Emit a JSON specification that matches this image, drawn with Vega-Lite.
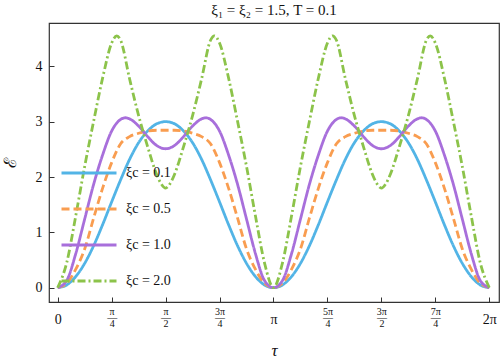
{
  "$schema": "https://vega.github.io/schema/vega-lite/v6.json",
  "width": 450,
  "height": 279,
  "autosize": {"type": "none"},
  "padding": {"left": 49, "top": 23, "right": 1, "bottom": 61},
  "background": "white",
  "config": {
    "font": "Liberation Serif",
    "view": {"stroke": "#333333", "strokeWidth": 1.2}
  },
  "title": {"text": "ξ₁ = ξ₂ = 1.5, T = 0.1", "fontSize": 15, "fontWeight": "normal", "font": "Liberation Serif", "anchor": "middle", "frame": "group", "offset": 5, "color": "#111"},
  "data": {"values": [
    {"c":"0.1","x":0,"y":0},{"c":"0.1","x":0.0417,"y":0.05},{"c":"0.1","x":0.0833,"y":0.2},{"c":"0.1","x":0.125,"y":0.44},{"c":"0.1","x":0.1667,"y":0.76},{"c":"0.1","x":0.2083,"y":1.14},{"c":"0.1","x":0.25,"y":1.55},{"c":"0.1","x":0.2917,"y":1.95},{"c":"0.1","x":0.3333,"y":2.32},{"c":"0.1","x":0.375,"y":2.62},{"c":"0.1","x":0.4167,"y":2.83},{"c":"0.1","x":0.4583,"y":2.96},{"c":"0.1","x":0.5,"y":3.0},
    {"c":"0.1","x":0.5417,"y":2.96},{"c":"0.1","x":0.5833,"y":2.83},{"c":"0.1","x":0.625,"y":2.62},{"c":"0.1","x":0.6667,"y":2.32},{"c":"0.1","x":0.7083,"y":1.95},{"c":"0.1","x":0.75,"y":1.55},{"c":"0.1","x":0.7917,"y":1.14},{"c":"0.1","x":0.8333,"y":0.76},{"c":"0.1","x":0.875,"y":0.44},{"c":"0.1","x":0.9167,"y":0.2},{"c":"0.1","x":0.9583,"y":0.05},{"c":"0.1","x":1,"y":0},
    {"c":"0.1","x":1.0417,"y":0.05},{"c":"0.1","x":1.0833,"y":0.2},{"c":"0.1","x":1.125,"y":0.44},{"c":"0.1","x":1.1667,"y":0.76},{"c":"0.1","x":1.2083,"y":1.14},{"c":"0.1","x":1.25,"y":1.55},{"c":"0.1","x":1.2917,"y":1.95},{"c":"0.1","x":1.3333,"y":2.32},{"c":"0.1","x":1.375,"y":2.62},{"c":"0.1","x":1.4167,"y":2.83},{"c":"0.1","x":1.4583,"y":2.96},{"c":"0.1","x":1.5,"y":3.0},
    {"c":"0.1","x":1.5417,"y":2.96},{"c":"0.1","x":1.5833,"y":2.83},{"c":"0.1","x":1.625,"y":2.62},{"c":"0.1","x":1.6667,"y":2.32},{"c":"0.1","x":1.7083,"y":1.95},{"c":"0.1","x":1.75,"y":1.55},{"c":"0.1","x":1.7917,"y":1.14},{"c":"0.1","x":1.8333,"y":0.76},{"c":"0.1","x":1.875,"y":0.44},{"c":"0.1","x":1.9167,"y":0.2},{"c":"0.1","x":1.9583,"y":0.05},{"c":"0.1","x":2,"y":0},

    {"c":"0.5","x":0,"y":0},{"c":"0.5","x":0.0417,"y":0.08},{"c":"0.5","x":0.0833,"y":0.33},{"c":"0.5","x":0.125,"y":0.7},{"c":"0.5","x":0.1667,"y":1.26},{"c":"0.5","x":0.2083,"y":1.8},{"c":"0.5","x":0.25,"y":2.26},{"c":"0.5","x":0.2917,"y":2.6},{"c":"0.5","x":0.3333,"y":2.73},{"c":"0.5","x":0.375,"y":2.79},{"c":"0.5","x":0.4167,"y":2.83},{"c":"0.5","x":0.4583,"y":2.845},{"c":"0.5","x":0.5,"y":2.845},
    {"c":"0.5","x":0.5417,"y":2.845},{"c":"0.5","x":0.5833,"y":2.83},{"c":"0.5","x":0.625,"y":2.79},{"c":"0.5","x":0.6667,"y":2.73},{"c":"0.5","x":0.7083,"y":2.6},{"c":"0.5","x":0.75,"y":2.26},{"c":"0.5","x":0.7917,"y":1.8},{"c":"0.5","x":0.8333,"y":1.26},{"c":"0.5","x":0.875,"y":0.7},{"c":"0.5","x":0.9167,"y":0.33},{"c":"0.5","x":0.9583,"y":0.08},{"c":"0.5","x":1,"y":0},
    {"c":"0.5","x":1.0417,"y":0.08},{"c":"0.5","x":1.0833,"y":0.33},{"c":"0.5","x":1.125,"y":0.7},{"c":"0.5","x":1.1667,"y":1.26},{"c":"0.5","x":1.2083,"y":1.8},{"c":"0.5","x":1.25,"y":2.26},{"c":"0.5","x":1.2917,"y":2.6},{"c":"0.5","x":1.3333,"y":2.73},{"c":"0.5","x":1.375,"y":2.79},{"c":"0.5","x":1.4167,"y":2.83},{"c":"0.5","x":1.4583,"y":2.845},{"c":"0.5","x":1.5,"y":2.845},
    {"c":"0.5","x":1.5417,"y":2.845},{"c":"0.5","x":1.5833,"y":2.83},{"c":"0.5","x":1.625,"y":2.79},{"c":"0.5","x":1.6667,"y":2.73},{"c":"0.5","x":1.7083,"y":2.6},{"c":"0.5","x":1.75,"y":2.26},{"c":"0.5","x":1.7917,"y":1.8},{"c":"0.5","x":1.8333,"y":1.26},{"c":"0.5","x":1.875,"y":0.7},{"c":"0.5","x":1.9167,"y":0.33},{"c":"0.5","x":1.9583,"y":0.08},{"c":"0.5","x":2,"y":0},

    {"c":"1.0","x":0,"y":0},{"c":"1.0","x":0.0417,"y":0.13},{"c":"1.0","x":0.0833,"y":0.61},{"c":"1.0","x":0.125,"y":1.24},{"c":"1.0","x":0.1667,"y":1.87},{"c":"1.0","x":0.2083,"y":2.4},{"c":"1.0","x":0.25,"y":2.83},{"c":"1.0","x":0.2917,"y":3.04},{"c":"1.0","x":0.3132,"y":3.07},{"c":"1.0","x":0.3333,"y":3.05},{"c":"1.0","x":0.375,"y":2.92},{"c":"1.0","x":0.4167,"y":2.73},{"c":"1.0","x":0.4583,"y":2.57},{"c":"1.0","x":0.5,"y":2.51},
    {"c":"1.0","x":0.5417,"y":2.57},{"c":"1.0","x":0.5833,"y":2.73},{"c":"1.0","x":0.625,"y":2.92},{"c":"1.0","x":0.6667,"y":3.05},{"c":"1.0","x":0.6868,"y":3.07},{"c":"1.0","x":0.7083,"y":3.04},{"c":"1.0","x":0.75,"y":2.83},{"c":"1.0","x":0.7917,"y":2.4},{"c":"1.0","x":0.8333,"y":1.87},{"c":"1.0","x":0.875,"y":1.24},{"c":"1.0","x":0.9167,"y":0.61},{"c":"1.0","x":0.9583,"y":0.13},{"c":"1.0","x":1,"y":0},
    {"c":"1.0","x":1.0417,"y":0.13},{"c":"1.0","x":1.0833,"y":0.61},{"c":"1.0","x":1.125,"y":1.24},{"c":"1.0","x":1.1667,"y":1.87},{"c":"1.0","x":1.2083,"y":2.4},{"c":"1.0","x":1.25,"y":2.83},{"c":"1.0","x":1.2917,"y":3.04},{"c":"1.0","x":1.3132,"y":3.07},{"c":"1.0","x":1.3333,"y":3.05},{"c":"1.0","x":1.375,"y":2.92},{"c":"1.0","x":1.4167,"y":2.73},{"c":"1.0","x":1.4583,"y":2.57},{"c":"1.0","x":1.5,"y":2.51},
    {"c":"1.0","x":1.5417,"y":2.57},{"c":"1.0","x":1.5833,"y":2.73},{"c":"1.0","x":1.625,"y":2.92},{"c":"1.0","x":1.6667,"y":3.05},{"c":"1.0","x":1.6868,"y":3.07},{"c":"1.0","x":1.7083,"y":3.04},{"c":"1.0","x":1.75,"y":2.83},{"c":"1.0","x":1.7917,"y":2.4},{"c":"1.0","x":1.8333,"y":1.87},{"c":"1.0","x":1.875,"y":1.24},{"c":"1.0","x":1.9167,"y":0.61},{"c":"1.0","x":1.9583,"y":0.13},{"c":"1.0","x":2,"y":0},

    {"c":"2.0","x":0,"y":0},{"c":"2.0","x":0.0417,"y":0.45},{"c":"2.0","x":0.0833,"y":1.29},{"c":"2.0","x":0.125,"y":2.19},{"c":"2.0","x":0.1667,"y":3.01},{"c":"2.0","x":0.2083,"y":3.79},{"c":"2.0","x":0.25,"y":4.42},{"c":"2.0","x":0.2735,"y":4.55},{"c":"2.0","x":0.2917,"y":4.47},{"c":"2.0","x":0.3333,"y":3.77},{"c":"2.0","x":0.375,"y":3.11},{"c":"2.0","x":0.4167,"y":2.55},{"c":"2.0","x":0.4583,"y":2.05},{"c":"2.0","x":0.4792,"y":1.88},{"c":"2.0","x":0.5,"y":1.8},
    {"c":"2.0","x":0.5208,"y":1.88},{"c":"2.0","x":0.5417,"y":2.05},{"c":"2.0","x":0.5833,"y":2.55},{"c":"2.0","x":0.625,"y":3.11},{"c":"2.0","x":0.6667,"y":3.77},{"c":"2.0","x":0.7083,"y":4.47},{"c":"2.0","x":0.7265,"y":4.55},{"c":"2.0","x":0.75,"y":4.42},{"c":"2.0","x":0.7917,"y":3.79},{"c":"2.0","x":0.8333,"y":3.01},{"c":"2.0","x":0.875,"y":2.19},{"c":"2.0","x":0.9167,"y":1.29},{"c":"2.0","x":0.9583,"y":0.45},{"c":"2.0","x":1,"y":0},
    {"c":"2.0","x":1.0417,"y":0.45},{"c":"2.0","x":1.0833,"y":1.29},{"c":"2.0","x":1.125,"y":2.19},{"c":"2.0","x":1.1667,"y":3.01},{"c":"2.0","x":1.2083,"y":3.79},{"c":"2.0","x":1.25,"y":4.42},{"c":"2.0","x":1.2735,"y":4.55},{"c":"2.0","x":1.2917,"y":4.47},{"c":"2.0","x":1.3333,"y":3.77},{"c":"2.0","x":1.375,"y":3.11},{"c":"2.0","x":1.4167,"y":2.55},{"c":"2.0","x":1.4583,"y":2.05},{"c":"2.0","x":1.4792,"y":1.88},{"c":"2.0","x":1.5,"y":1.8},
    {"c":"2.0","x":1.5208,"y":1.88},{"c":"2.0","x":1.5417,"y":2.05},{"c":"2.0","x":1.5833,"y":2.55},{"c":"2.0","x":1.625,"y":3.11},{"c":"2.0","x":1.6667,"y":3.77},{"c":"2.0","x":1.7083,"y":4.47},{"c":"2.0","x":1.7265,"y":4.55},{"c":"2.0","x":1.75,"y":4.42},{"c":"2.0","x":1.7917,"y":3.79},{"c":"2.0","x":1.8333,"y":3.01},{"c":"2.0","x":1.875,"y":2.19},{"c":"2.0","x":1.9167,"y":1.29},{"c":"2.0","x":1.9583,"y":0.45},{"c":"2.0","x":2,"y":0}
  ]},
  "mark": {"type": "line", "interpolate": "monotone", "strokeWidth": 2.8, "clip": true},
  "encoding": {
    "x": {
      "field": "x", "type": "quantitative",
      "scale": {"domain": [-0.0403, 2.045], "nice": false, "zero": false},
      "axis": {
        "values": [0, 0.25, 0.5, 0.75, 1, 1.25, 1.5, 1.75, 2],
        "labelExpr": "datum.value == 0 ? ['', '0'] : datum.value == 0.25 ? ['π', '—', '4'] : datum.value == 0.5 ? ['π', '—', '2'] : datum.value == 0.75 ? ['3π', '—', '4'] : datum.value == 1 ? ['', 'π'] : datum.value == 1.25 ? ['5π', '—', '4'] : datum.value == 1.5 ? ['3π', '—', '2'] : datum.value == 1.75 ? ['7π', '—', '4'] : ['', '2π']",
        "labelFontSize": {"condition": {"test": "datum.value == 0 || datum.value == 1 || datum.value == 2", "value": 14}, "value": 10},
        "labelLineHeight": 6, "labelPadding": 9, "labelColor": "#111",
        "tickSize": -5, "tickColor": "#333", "domain": false, "grid": false, "labelFlush": false,
        "title": "τ", "titleFontSize": 17, "titleFontWeight": "normal", "titleFontStyle": "italic", "titleColor": "#111",
        "titleY": 48, "titleBaseline": "middle"
      }
    },
    "y": {
      "field": "y", "type": "quantitative",
      "scale": {"domain": [-0.258, 4.782], "nice": false, "zero": false},
      "axis": {
        "values": [0, 1, 2, 3, 4],
        "labelFontSize": 14, "labelPadding": 12, "labelColor": "#111",
        "tickSize": -5, "tickColor": "#333", "domain": false, "grid": false,
        "title": "ℰ", "titleFont": "DejaVu Serif", "titleFontSize": 17, "titleFontWeight": "normal", "titleColor": "#111",
        "titleX": -39, "titleY": 139, "titleBaseline": "middle", "titleAlign": "center"
      }
    },
    "color": {
      "field": "c", "type": "nominal",
      "scale": {"domain": ["0.1", "0.5", "1.0", "2.0"], "range": ["#52b4e6", "#f99d50", "#a86fdb", "#8cc34a"]},
      "legend": {
        "orient": "none", "legendX": 11, "legendY": 121, "title": null,
        "labelExpr": "'ξc = ' + datum.label",
        "labelFontSize": 14, "labelColor": "#111", "labelOffset": 8,
        "symbolType": "stroke", "symbolSize": 3025, "symbolStrokeWidth": 2.8,
        "rowPadding": 0, "padding": 0
      }
    },
    "strokeDash": {
      "field": "c", "type": "nominal",
      "scale": {"domain": ["0.1", "0.5", "1.0", "2.0"], "range": [[1, 0], [8, 4], [1, 0], [8, 3, 2, 3]]},
      "legend": {
        "orient": "none", "legendX": 11, "legendY": 121, "title": null,
        "labelExpr": "'ξc = ' + datum.label",
        "labelFontSize": 14, "labelColor": "#111", "labelOffset": 8,
        "symbolType": "stroke", "symbolSize": 3025, "symbolStrokeWidth": 2.8,
        "rowPadding": 0, "padding": 0
      }
    }
  }
}
